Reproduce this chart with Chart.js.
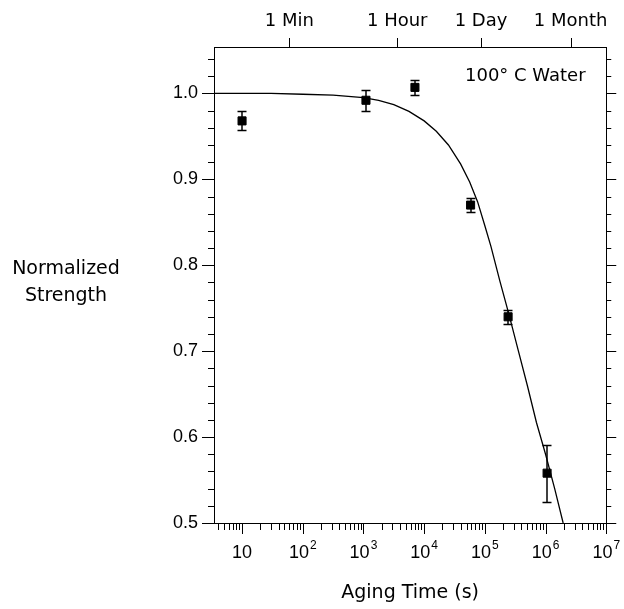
<!DOCTYPE html>
<html>
<head>
<meta charset="utf-8">
<script src="https://cdn.jsdelivr.net/npm/chart.js@4.4.0/dist/chart.umd.min.js"></script>
<style>
  html, body { margin: 0; padding: 0; background: #fff; }
  canvas { display: block; }
</style>
</head>
<body>
<canvas id="strength_chart" width="624" height="609"></canvas>
<script>
// MEASURED POINTS: aging time (s), normalized strength, +/- error
const agingTime = [10, 1100, 7050, 58200, 241500, 1060000];
const strength = [0.968, 0.992, 1.007, 0.870, 0.740, 0.558];
const strengthErr = [0.011, 0.0125, 0.009, 0.008, 0.008, 0.033];

// FIT CURVE
const fitTime = [3.45, 30, 100, 316, 1000, 1778, 3162, 5623, 10000, 15850, 25120,
  39810, 56230, 75860, 100000, 125900, 177800, 251200, 354800, 501200, 707900,
  1000000, 1413000, 1950000];
const fitStrength = [1.000, 1.000, 0.999, 0.998, 0.995, 0.992, 0.987, 0.979, 0.968, 0.956, 0.940,
  0.918, 0.897, 0.874, 0.846, 0.822, 0.781, 0.742, 0.701, 0.660, 0.617,
  0.580, 0.540, 0.500];

// AXIS TICKS / LABELS
const decadeTicks = [10, 1e2, 1e3, 1e4, 1e5, 1e6, 1e7];
const decadeExp = ['', '2', '3', '4', '5', '6', '7'];
const timeMarks = [60, 3600, 86400, 2592000];
const timeLabels = ['1 Min', '1 Hour', '1 Day', '1 Month'];
const strengthTicks = [0.5, 0.6, 0.7, 0.8, 0.9, 1.0];

const X_MIN = 3.45, X_MAX = 1e7, Y_MIN = 0.5, Y_MAX = 1.054;
const TEXT_FONT = 'DejaVu Sans';
const NUM_FONT = 'Liberation Sans';

function seg(ctx, x1, y1, x2, y2) {
  ctx.beginPath();
  ctx.moveTo(x1, y1);
  ctx.lineTo(x2, y2);
  ctx.stroke();
}

// error bars, tick marks and the free text
const extras = {
  id: 'extras',
  afterDatasetsDraw(chart) {
    const ctx = chart.ctx;
    const xs = chart.scales.x, ys = chart.scales.y;
    ctx.save();
    ctx.strokeStyle = '#000';
    ctx.lineWidth = 1.5;
    agingTime.forEach((t, i) => {
      const px = Math.round(xs.getPixelForValue(t));
      const top = Math.round(ys.getPixelForValue(strength[i] + strengthErr[i])) + 0.5;
      const bot = Math.round(ys.getPixelForValue(strength[i] - strengthErr[i])) + 0.5;
      seg(ctx, px, top, px, bot);
      seg(ctx, px - 4.5, top, px + 4.5, top);
      seg(ctx, px - 4.5, bot, px + 4.5, bot);
    });
    ctx.restore();
  },
  afterDraw(chart) {
    const ctx = chart.ctx;
    const xs = chart.scales.x, ys = chart.scales.y;
    const a = chart.chartArea;
    ctx.save();
    ctx.strokeStyle = '#000';
    ctx.lineWidth = 1;

    // bottom log ticks (outside)
    for (let n = 0; n <= 7; n++) {
      for (let k = 1; k <= 9; k++) {
        const v = k * Math.pow(10, n);
        if (v < X_MIN || v > X_MAX * 1.0001) continue;
        const px = Math.round(xs.getPixelForValue(v)) + 0.5;
        seg(ctx, px, a.bottom, px, a.bottom + (k === 1 ? 11 : 7));
      }
    }
    // top ticks at time marks
    timeMarks.forEach(v => {
      const px = Math.round(xs.getPixelForValue(v)) + 0.5;
      seg(ctx, px, a.top, px, a.top - 9);
    });
    // left and right ticks every 0.02
    for (let i = 0; i <= 27; i++) {
      const v = 0.5 + i * 0.02;
      if (v > Y_MAX) break;
      const major = i % 5 === 0;
      const py = Math.round(ys.getPixelForValue(v)) + 0.5;
      seg(ctx, a.left, py, a.left - (major ? 12 : 6), py);
      seg(ctx, a.right, py, a.right + (major ? 10 : 5), py);
    }

    // decade labels with superscripts
    ctx.fillStyle = '#000';
    ctx.textBaseline = 'alphabetic';
    ctx.textAlign = 'left';
    decadeTicks.forEach((v, i) => {
      const px = xs.getPixelForValue(v);
      ctx.font = '18px "' + NUM_FONT + '"';
      const wb = ctx.measureText('10').width;
      ctx.font = '12px "' + NUM_FONT + '"';
      const we = decadeExp[i] ? ctx.measureText(decadeExp[i]).width + 1 : 0;
      const x0 = px - (wb + we) / 2;
      ctx.font = '18px "' + NUM_FONT + '"';
      ctx.fillText('10', x0, 558);
      if (decadeExp[i]) {
        ctx.font = '12px "' + NUM_FONT + '"';
        ctx.fillText(decadeExp[i], x0 + wb + 1, 549);
      }
    });

    // horizontal y-axis title
    ctx.font = '19px "' + TEXT_FONT + '"';
    ctx.textAlign = 'center';
    ctx.textBaseline = 'middle';
    ctx.fillText('Normalized', 66, 269);
    ctx.fillText('Strength', 66, 296);

    // annotation
    ctx.font = '18px "' + TEXT_FONT + '"';
    ctx.textAlign = 'left';
    ctx.fillText('100° C Water', 465, 76);
    ctx.restore();
  }
};

const data_strength = {
  datasets: [
    {
      label: 'fit',
      data: fitTime.map((t, i) => ({ x: t, y: fitStrength[i] })),
      showLine: true,
      borderColor: '#000',
      borderWidth: 1.3,
      pointRadius: 0,
      tension: 0,
    },
    {
      label: '100 C water',
      data: agingTime.map((t, i) => ({ x: t, y: strength[i] })),
      showLine: false,
      pointStyle: 'rect',
      pointRadius: 5.7,
      pointBackgroundColor: '#000',
      pointBorderColor: '#000',
      pointBorderWidth: 1,
    },
  ],
};

const options_strength = {
  responsive: false,
  animation: false,
  devicePixelRatio: 1,
  layout: { padding: 0 },
  plugins: {
    legend: { display: false },
    tooltip: { enabled: false },
  },
  scales: {
    x: {
      type: 'logarithmic',
      position: 'bottom',
      min: X_MIN,
      max: X_MAX,
      grid: { display: false, drawTicks: false },
      border: { display: true, color: '#000', width: 1 },
      ticks: { display: false },
      afterBuildTicks: (s) => { s.ticks = decadeTicks.map(v => ({ value: v })); },
      afterFit: (s) => { s.height = 86; },
      title: {
        display: true,
        text: 'Aging Time (s)',
        color: '#000',
        font: { family: TEXT_FONT, size: 19 },
        padding: { top: 0, bottom: 5 },
      },
    },
    x2: {
      type: 'logarithmic',
      position: 'top',
      min: X_MIN,
      max: X_MAX,
      grid: { display: false, drawTicks: false },
      border: { display: true, color: '#000', width: 1 },
      afterBuildTicks: (s) => { s.ticks = timeMarks.map(v => ({ value: v })); },
      afterFit: (s) => { s.height = 47; },
      ticks: {
        autoSkip: false,
        maxRotation: 0,
        padding: 15,
        color: '#000',
        font: { family: TEXT_FONT, size: 18 },
        callback: (v, i) => timeLabels[i],
      },
    },
    y: {
      type: 'linear',
      position: 'left',
      min: Y_MIN,
      max: Y_MAX,
      grid: { display: false, drawTicks: false },
      border: { display: true, color: '#000', width: 1 },
      afterBuildTicks: (s) => { s.ticks = strengthTicks.map(v => ({ value: v })); },
      afterFit: (s) => { s.width = 214; },
      ticks: {
        padding: 16,
        color: '#000',
        font: { family: NUM_FONT, size: 18 },
        callback: (v) => Number(v).toFixed(1),
      },
    },
    y2: {
      type: 'linear',
      position: 'right',
      min: Y_MIN,
      max: Y_MAX,
      grid: { display: false, drawTicks: false },
      border: { display: true, color: '#000', width: 1 },
      ticks: { display: false },
      afterFit: (s) => { s.width = 17; },
    },
  },
};

const ctx_strength = document.getElementById('strength_chart');
const chart_strength = new Chart(ctx_strength, {
  type: 'scatter',
  data: data_strength,
  options: options_strength,
  plugins: [extras],
});
</script>
</body>
</html>
